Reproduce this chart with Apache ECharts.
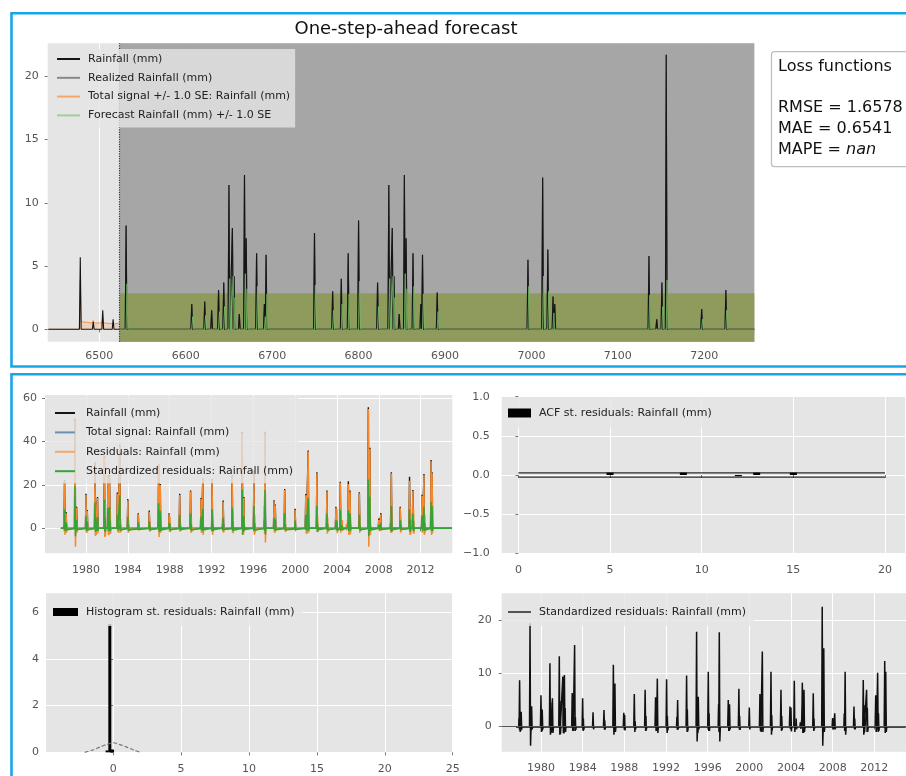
<!DOCTYPE html>
<html>
<head>
<meta charset="utf-8">
<script src="https://cdn.jsdelivr.net/npm/echarts@6/dist/echarts.min.js"></script>
<style>
  html, body { margin: 0; padding: 0; background: #ffffff; }
  #chart { width: 906px; height: 776px; }
</style>
</head>
<body>
<div id="chart"></div>
<script>
// ---------- One-step-ahead forecast (daily index) ----------
const sampleStart = 6441;
const forecastStart = 6523.5;
const forecastEnd = 7257.9;
const seUpper = 2.85;            // upper edge of the forecast +/- 1.0 SE band

const rainDays = [6478, 6493, 6504, 6516, 6531, 6607, 6622, 6630, 6638, 6644, 6650, 6654, 6656, 6662, 6668, 6670,
  6682, 6691, 6693, 6749, 6770, 6780, 6788, 6800, 6822, 6835, 6839, 6841, 6847, 6853, 6855, 6863, 6872, 6874, 6891,
  6996, 7013, 7019, 7025, 7027, 7136, 7145, 7151, 7156, 7197, 7225];
const rainMm = [5.7, 0.6, 1.5, 0.8, 8.2, 2.0, 2.2, 1.5, 3.1, 3.7, 11.4, 8.0, 4.2, 1.2, 12.2, 7.2,
  6.0, 2.0, 5.9, 7.6, 3.0, 4.0, 6.0, 8.6, 3.7, 11.4, 8.0, 4.2, 1.2, 12.2, 7.2, 6.0, 2.0, 5.9, 2.9,
  5.5, 12.0, 6.3, 2.6, 2.0, 5.8, 0.8, 3.7, 21.7, 1.6, 3.1];

const forecastDays = [6532, 6608, 6623, 6639, 6645, 6651, 6655, 6657, 6669, 6671, 6683, 6692, 6694, 6750, 6771, 6781,
  6789, 6801, 6823, 6836, 6840, 6842, 6854, 6856, 6864, 6875, 6892, 6997, 7014, 7020, 7026, 7137, 7152, 7157, 7198, 7226];
const forecastMm = [3.6, 1.0, 1.1, 1.4, 1.8, 4.0, 4.2, 2.5, 4.4, 3.2, 3.4, 1.0, 2.8, 3.5, 1.5, 2.0,
  2.8, 3.8, 1.8, 4.0, 4.2, 2.5, 4.4, 3.2, 3.4, 2.8, 1.4, 3.4, 4.2, 3.0, 1.3, 2.7, 1.8, 3.9, 0.8, 1.5];

const signalDays = [6441, 6477, 6478, 6479, 6492, 6493, 6494, 6503, 6504, 6505, 6515, 6516, 6517, 6523];
const signalUpperMm = [0, 0, 3.9, 0.6, 0.5, 0.7, 0.5, 0.5, 0.9, 0.5, 0.45, 0.6, 0.45, 0.45];

const rmse = '1.6578', mae = '0.6541', mape = 'nan';

// ---------- Diagnostics (decimal years) ----------
const obsStart = 1977.6, obsEnd = 2015.0;
const eventYear = [1977.95, 1978.1, 1978.95, 1979.1, 1980.0, 1980.12, 1980.86, 1981.1, 1981.76, 1982.1, 1982.25,
  1983.0, 1983.23, 1984.0, 1985.0, 1986.05, 1986.95, 1987.1, 1987.95, 1988.96, 1990.0, 1991.0, 1991.17, 1992.06,
  1993.12, 1993.98, 1994.94, 1995.1, 1996.06, 1997.12, 1997.98, 1998.1, 1999.0, 2000.0, 2001.02, 2001.25, 2002.08,
  2003.04, 2003.9, 2004.32, 2005.09, 2005.25, 2006.14, 2007.0, 2007.15, 2008.0, 2008.2, 2009.2, 2010.05, 2010.94,
  2011.26, 2012.13, 2012.32, 2013.0, 2013.1];
const eventRain = [22.2, 7.5, 50.6, 10.0, 15.9, 8.5, 30.5, 14.5, 33.5, 24.5, 24.5,
  16.5, 38.5, 13.5, 7.0, 8.2, 29.5, 20.5, 7.0, 15.9, 17.5, 14.0, 23.0, 22.8,
  12.8, 24.5, 44.5, 14.5, 26.5, 44.5, 13.0, 11.0, 18.2, 9.0, 15.8, 35.9, 25.9,
  17.5, 10.0, 21.5, 21.7, 17.5, 16.7, 55.8, 37.2, 4.5, 7.0, 25.9, 10.0, 23.8,
  17.7, 15.5, 25.1, 31.5, 25.9];
const eventResid = [21.7, 7.0, 50.0, 9.5, 15.4, 8.0, 30.0, 14.0, 33.0, 24.0, 24.0,
  16.0, 38.0, 13.0, 6.5, 7.7, 29.0, 20.0, 6.5, 15.4, 17.0, 13.5, 22.5, 22.3,
  12.3, 24.0, 44.0, 14.0, 26.0, 44.0, 12.5, 10.5, 17.7, 8.5, 15.3, 35.4, 25.4,
  17.0, 9.5, 21.0, 20.5, 17.0, 16.2, 55.0, 36.7, 4.0, 6.5, 25.4, 9.5, 22.0,
  17.2, 15.0, 24.6, 31.0, 25.4];
const eventResidLow = [-3, -2, -8.5, -2, -2, -1, -3.5, -2, -4, -3, -2,
  -1.5, -2, -2, -1, -1.5, -4, -2, -1.5, -1.5, -2, -2, -3, -3,
  -2, -2, -3, -1.5, -3, -6.5, -2, -1, -1.5, -1, -2.5, -2, -1.5,
  -2.5, -1, -2, -3, -2.5, -2, -8.5, -3, -1, -1, -2, -2, -3,
  -2, -2, -3, -3, -2];
const stdResid = [8.7, 2.8, 19.4, 3.8, 5.9, 3.2, 11.9, 5.3, 13.2, 9.4, 9.7,
  6.3, 15.3, 5.3, 2.7, 3.1, 11.6, 8.1, 2.6, 6.1, 6.9, 5.5, 9.0, 8.9,
  5.0, 9.6, 17.8, 5.6, 10.3, 17.7, 5.0, 4.2, 7.1, 3.6, 6.1, 14.1, 10.3,
  6.9, 3.75, 8.6, 8.25, 6.9, 6.25, 22.5, 14.7, 1.6, 2.5, 10.3, 3.75, 8.75,
  6.9, 5.9, 10.1, 12.3, 10.3];
const stdResidLow = [-1.0, -0.5, -3.6, -0.5, -1.0, -0.5, -1.5, -1.2, -1.5, -1.2, -1.0,
  -0.8, -0.8, -0.8, -0.5, -0.6, -1.5, -1.0, -0.6, -1.0, -0.8, -0.8, -1.2, -1.2,
  -0.5, -1.0, -2.8, -0.5, -0.8, -2.8, -0.8, -0.5, -0.6, -0.5, -0.8, -1.0, -1.5,
  -0.8, -0.5, -1.0, -1.2, -1.0, -0.8, -3.6, -1.0, -0.5, -0.5, -1.5, -0.5, -1.5,
  -1.0, -1.0, -1.0, -1.2, -1.0];

// smaller wet days around the main events
const minorYear = [1977.9, 1978.02, 1979.02, 1980.06, 1980.93, 1981.03, 1981.83, 1982.17, 1982.32, 1983.08, 1983.3,
  1984.07, 1986.12, 1987.02, 1988.03, 1989.04, 1990.07, 1991.08, 1992.13, 1993.05, 1994.05, 1995.02, 1996.13,
  1997.05, 1998.04, 1999.07, 2001.1, 2002.15, 2003.11, 2004.0, 2004.5, 2004.9, 2005.17, 2006.2, 2007.07, 2008.08,
  2009.12, 2010.12, 2011.02, 2011.33, 2012.2, 2012.4, 2013.05];
const minorStd = [1.5, 2.5, 1.8, 2.2, 4.5, 3.0, 4.8, 5.0, 3.5, 2.5, 1.8,
  1.5, 1.2, 2.8, 2.2, 1.0, 2.0, 2.5, 2.0, 1.8, 3.2, 5.5, 2.5,
  4.2, 2.8, 2.0, 3.5, 2.2, 2.0, 3.6, 1.5, 0.8, 5.2, 1.5, 3.0, 1.2,
  2.5, 1.5, 4.0, 3.5, 1.8, 2.5, 3.5];
const minorStdLow = [-0.6, -0.8, -0.7, -0.8, -1.2, -1.0, -1.4, -1.3, -1.0, -0.8, -0.6,
  -0.6, -0.5, -0.9, -0.7, -0.5, -0.7, -0.8, -0.7, -0.6, -0.9, -1.2, -0.8,
  -1.0, -0.8, -0.6, -1.0, -0.7, -0.6, -0.9, -0.5, -0.4, -1.2, -0.5, -0.9, -0.5,
  -0.8, -0.5, -1.1, -1.0, -0.6, -0.8, -1.0];
const minorResid = [3.8, 6.2, 4.5, 5.5, 11.2, 7.5, 12.0, 12.5, 8.8, 6.2, 4.5,
  3.8, 3.0, 7.0, 5.5, 2.5, 5.0, 6.2, 5.0, 4.5, 8.0, 13.8, 6.2,
  10.5, 7.0, 5.0, 8.8, 5.5, 5.0, 9.0, 3.8, 2.0, 13.0, 3.8, 7.5, 3.0,
  6.2, 3.8, 10.0, 8.8, 4.5, 6.2, 8.8];
const minorResidLow = [-1.5, -2, -1.8, -2, -3, -2.5, -3.5, -3.2, -2.5, -2, -1.5,
  -1.5, -1.2, -2.2, -1.8, -1.2, -1.8, -2, -1.8, -1.5, -2.2, -3, -2,
  -2.5, -2, -1.5, -2.5, -1.8, -1.5, -2.2, -1.2, -1, -3, -1.2, -2.2, -1.2,
  -2, -1.2, -2.8, -2.5, -1.5, -2, -2.5];

const acfLags = [5, 9, 12, 13, 15];
const acfValues = [0.03, 0.03, -0.015, 0.03, 0.03];
const acfBoundLags = [0, 20];
const acfBound = 0.028;

const histCenters = [-0.45, -0.25, -0.05];
const histDensity = [0.08, 5.5, 0.12];
const kdeX = [-2.1, -1.5, -1.0, -0.5, 0.0, 0.5, 1.0, 1.5, 2.0];
const kdeY = [0, 0.1, 0.22, 0.33, 0.41, 0.33, 0.22, 0.1, 0];

// ---------- Tick labels ----------
const topTicksX = [6500, 6600, 6700, 6800, 6900, 7000, 7100, 7200];
const topTicksY = [0, 5, 10, 15, 20];
const yearTicks = [1980, 1984, 1988, 1992, 1996, 2000, 2004, 2008, 2012];
const seriesTicksY = [0, 20, 40, 60];
const acfTicksX = [0, 5, 10, 15, 20];
const acfTicksY = [-1, -0.5, 0, 0.5, 1];
const histTicksX = [0, 5, 10, 15, 20, 25];
const histTicksY = [0, 2, 4, 6];
const stdTicksY = [0, 10, 20];

// ---------- helpers ----------
const FONT = 'DejaVu Sans';
const C = {
  black: '#151515', orange: '#f5892c', green: '#36a336', blue: '#3f73a8',
  fcGreen: '#74c062', panel: '#e5e5e5', shade: '#a6a6a6', band: '#8e9b5d', frame: '#17a6e8'
};

// polyline of narrow spikes returning to zero between events
function spikes(xs, peaks, lows, dw, x0, x1) {
  const pts = [[x0, 0]];
  xs.forEach((x, i) => {
    pts.push([x - dw, 0], [x, peaks[i]]);
    if (lows) { pts.push([x + dw, lows[i]], [x + 2 * dw, 0]); }
    else { pts.push([x + dw, 0]); }
  });
  pts.push([x1, 0]);
  return pts;
}
function pairs(xs, ys) { return xs.map((x, i) => [x, ys[i]]); }

const plainFmt = v => String(v);
const signedFmt = v => (v < 0 ? '\u2212' : '') + Math.abs(v).toFixed(1);

function axis(gi, min, max, ticks, margin, extra) {
  const a = {
    type: 'value', gridIndex: gi, min: min, max: max,
    axisLine: { show: false },
    axisTick: { show: true, length: 3, customValues: ticks, lineStyle: { color: '#777', width: 1 } },
    axisLabel: { customValues: ticks, color: '#555', fontSize: 11, margin: margin, fontFamily: FONT, formatter: plainFmt },
    splitLine: { show: true, lineStyle: { color: '#ffffff', width: 1 } }
  };
  if (extra && extra.formatter) a.axisLabel.formatter = extra.formatter;
  if (extra && extra.noSplit) a.splitLine.show = false;
  return a;
}

function line(name, xi, yi, data, color, width, z, extra) {
  return Object.assign({
    name: name, type: 'line', xAxisIndex: xi, yAxisIndex: yi, data: data,
    symbol: 'none', showSymbol: false, clip: true, z: z, silent: true,
    lineStyle: { color: color, width: width }, itemStyle: { color: color }
  }, extra || {});
}

const legendText = { fontSize: 11, color: '#222', lineHeight: 14, fontFamily: FONT };
const legendBg = 'rgba(229,229,229,0.8)';
const LZ = 30;

// derived series for the diagnostics panel
const signalPeaks = eventRain.map((r, i) => r - eventResid[i]);
const signalLows = eventResidLow.map(v => -v);

const option = {
  animation: false,
  backgroundColor: '#ffffff',
  textStyle: { fontFamily: FONT },
  title: {
    text: 'One-step-ahead forecast', left: 401, top: 15, textAlign: 'center',
    textStyle: { fontSize: 18, fontWeight: 'normal', color: '#111', fontFamily: FONT }
  },
  grid: [
    { left: 47.7, top: 43.3, width: 706.6, height: 298.4 },
    { left: 45, top: 395, width: 407.3, height: 158.3 },
    { left: 501.7, top: 396.7, width: 403.3, height: 156.6 },
    { left: 46, top: 593.3, width: 406.7, height: 159 },
    { left: 501.7, top: 593.3, width: 410, height: 158.4 }
  ].map(g => Object.assign(g, { show: true, backgroundColor: C.panel, borderWidth: 0, containLabel: false, outerBoundsMode: 'none' })),
  xAxis: [
    axis(0, 6440.3, 7257.9, topTicksX, 9),
    axis(1, 1976.08, 2015.03, yearTicks, 11),
    axis(2, -0.91, 21.09, acfTicksX, 11),
    axis(3, -4.95, 25, histTicksX, 11),
    axis(4, 1976.23, 2015.59, yearTicks, 11)
  ],
  yAxis: [
    axis(0, -0.98, 22.6, topTicksY, 9, { noSplit: true }),
    axis(1, -11.5, 61.5, seriesTicksY, 8),
    axis(2, -1, 1, acfTicksY, 12, { formatter: signedFmt }),
    axis(3, 0, 6.81, histTicksY, 7),
    axis(4, -4.7, 25.0, stdTicksY, 10)
  ],
  legend: [
    {
      z: LZ, left: 50, top: 49, orient: 'vertical', padding: [3, 5, 5, 7], itemGap: 4.8,
      itemWidth: 23, itemHeight: 2, icon: 'rect', selectedMode: false, backgroundColor: legendBg,
      textStyle: Object.assign({ padding: [0, 0, 0, 3] }, legendText),
      data: [
        { name: 'Rainfall (mm)', itemStyle: { color: C.black } },
        { name: 'Realized Rainfall (mm)', itemStyle: { color: '#888' } },
        { name: 'Total signal +/- 1.0 SE: Rainfall (mm)', itemStyle: { color: '#f6a767' } },
        { name: 'Forecast Rainfall (mm) +/- 1.0 SE', itemStyle: { color: '#9fd097' } }
      ]
    },
    {
      z: LZ, left: 47, top: 396, orient: 'vertical', padding: [10, 5, 5, 8], itemGap: 5.4,
      itemWidth: 20, itemHeight: 2, icon: 'rect', selectedMode: false, backgroundColor: legendBg,
      textStyle: Object.assign({ padding: [0, 0, 0, 6] }, legendText),
      data: [
        { name: 'Rainfall (mm)', itemStyle: { color: C.black } },
        { name: 'Total signal: Rainfall (mm)', itemStyle: { color: '#6d8fb5' } },
        { name: 'Residuals: Rainfall (mm)', itemStyle: { color: '#f5a869' } },
        { name: 'Standardized residuals: Rainfall (mm)', itemStyle: { color: C.green } }
      ]
    },
    {
      z: LZ, left: 502, top: 397, orient: 'vertical', padding: [9, 8, 8, 6],
      itemWidth: 23, itemHeight: 9, icon: 'rect', selectedMode: false, backgroundColor: legendBg,
      textStyle: Object.assign({ padding: [0, 0, 0, 3] }, legendText),
      data: [{ name: 'ACF st. residuals: Rainfall (mm)', itemStyle: { color: '#000' } }]
    },
    {
      z: LZ, left: 46, top: 594, orient: 'vertical', padding: [11, 8, 7, 7],
      itemWidth: 25, itemHeight: 8, icon: 'rect', selectedMode: false, backgroundColor: legendBg,
      textStyle: Object.assign({ padding: [0, 0, 0, 3] }, legendText),
      data: [{ name: 'Histogram st. residuals: Rainfall (mm)', itemStyle: { color: '#000' } }]
    },
    {
      z: LZ, left: 502, top: 594, orient: 'vertical', padding: [11, 8, 7, 6],
      itemWidth: 23, itemHeight: 1.5, icon: 'rect', selectedMode: false, backgroundColor: legendBg,
      textStyle: Object.assign({ padding: [0, 0, 0, 3] }, legendText),
      data: [{ name: 'Standardized residuals: Rainfall (mm)', itemStyle: { color: '#222' } }]
    }
  ],
  series: [
    // forecast window shading and the +/- 1.0 SE band
    line('forecast window', 0, 0, [[forecastStart, 0]], 'rgba(0,0,0,0)', 0, 1, {
      markArea: {
        silent: true,
        data: [
          [{ xAxis: forecastStart, itemStyle: { color: C.shade, opacity: 1 } }, { xAxis: forecastEnd }],
          [{ xAxis: forecastStart, itemStyle: { color: C.band, opacity: 1 } }, { xAxis: forecastEnd, yAxis: seUpper }]
        ]
      },
      markLine: {
        silent: true, symbol: 'none', label: { show: false },
        lineStyle: { type: 'dotted', color: '#3a3a3a', width: 1.2 },
        data: [{ xAxis: forecastStart }]
      }
    }),
    line('Total signal +/- 1.0 SE: Rainfall (mm)', 0, 0, pairs(signalDays, signalUpperMm), '#f5924a', 1, 3, {
      areaStyle: { color: 'rgba(247,170,110,0.45)', origin: 0 }
    }),
    line('Realized Rainfall (mm)', 0, 0,
      spikes(rainDays.filter(d => d > forecastStart), rainMm.filter((v, i) => rainDays[i] > forecastStart), null, 1, forecastStart, forecastEnd),
      '#5a5a5a', 1.2, 4),
    line('Rainfall (mm)', 0, 0, spikes(rainDays, rainMm, null, 1, sampleStart, forecastEnd), C.black, 1.1, 5),
    line('Forecast Rainfall (mm) +/- 1.0 SE', 0, 0, spikes(forecastDays, forecastMm, null, 1, forecastStart, forecastEnd), C.fcGreen, 0.9, 6, {
      lineStyle: { color: C.fcGreen, width: 0.9, opacity: 0.85 }
    }),

    // model diagnostics over time
    line('Rainfall (mm)', 1, 1, spikes(eventYear, eventRain, null, 0.05, obsStart, obsEnd), C.black, 1.4, 3),
    line('Total signal: Rainfall (mm)', 1, 1, spikes(eventYear, signalPeaks, signalLows, 0.04, obsStart, obsEnd), C.blue, 1.2, 4),
    line('Residuals: Rainfall (mm)', 1, 1, spikes(eventYear, eventResid, eventResidLow, 0.04, obsStart, obsEnd), C.orange, 1.5, 5),
    line('Residuals: Rainfall (mm)', 1, 1, spikes(minorYear, minorResid, minorResidLow, 0.03, obsStart, obsEnd), C.orange, 1.5, 5),
    line('Standardized residuals: Rainfall (mm)', 1, 1, spikes(eventYear, stdResid, stdResidLow, 0.04, obsStart, obsEnd), C.green, 1.5, 6),
    line('Standardized residuals: Rainfall (mm)', 1, 1, spikes(minorYear, minorStd, minorStdLow, 0.03, obsStart, obsEnd), C.green, 1.5, 6),

    // autocorrelation of standardized residuals
    line('acf upper', 2, 2, acfBoundLags.map(l => [l, acfBound]), '#2a2a2a', 1.3, 3),
    line('acf lower', 2, 2, acfBoundLags.map(l => [l, -acfBound]), '#2a2a2a', 1.3, 3),
    {
      name: 'ACF st. residuals: Rainfall (mm)', type: 'bar', xAxisIndex: 2, yAxisIndex: 2,
      data: pairs(acfLags, acfValues), barWidth: 7, itemStyle: { color: '#000' }, z: 4, silent: true
    },

    // histogram of standardized residuals with density
    {
      name: 'Histogram st. residuals: Rainfall (mm)', type: 'bar', xAxisIndex: 3, yAxisIndex: 3,
      data: pairs(histCenters, histDensity), barWidth: 3, barGap: '-100%', itemStyle: { color: '#000' }, z: 3, silent: true
    },
    line('density', 3, 3, pairs(kdeX, kdeY), '#777', 1.2, 4, {
      smooth: 0.3, lineStyle: { color: '#777', width: 1.2, type: [4, 2] }
    }),

    // standardized residuals over time
    line('Standardized residuals: Rainfall (mm)', 4, 4, spikes(eventYear, stdResid, stdResidLow, 0.05, obsStart, obsEnd), '#111', 1.5, 4, {
      markLine: {
        silent: true, symbol: 'none', label: { show: false },
        lineStyle: { type: 'solid', color: '#555', width: 1 },
        data: [{ yAxis: 0 }]
      }
    }),
    line('Standardized residuals: Rainfall (mm)', 4, 4, spikes(minorYear, minorStd, minorStdLow, 0.04, obsStart, obsEnd), '#111', 1.5, 4)
  ],
  graphic: [
    {
      type: 'rect', silent: true, z: 50,
      shape: { x: 11.5, y: 13.3, width: 920, height: 353.2 },
      style: { fill: 'none', stroke: C.frame, lineWidth: 2.6 }
    },
    {
      type: 'rect', silent: true, z: 50,
      shape: { x: 11.5, y: 374.3, width: 920, height: 420 },
      style: { fill: 'none', stroke: C.frame, lineWidth: 2.6 }
    },
    {
      type: 'rect', silent: true, z: 40,
      shape: { x: 771.5, y: 51.7, width: 160, height: 115, r: 3 },
      style: { fill: '#ffffff', stroke: '#bdbdbd', lineWidth: 1.2 }
    },
    {
      type: 'text', silent: true, z: 41, left: 778, top: 56.3,
      style: {
        text: 'Loss functions\n\nRMSE = ' + rmse + '\nMAE = ' + mae + '\nMAPE = {it|' + mape + '}',
        fontSize: 16, lineHeight: 20.8, fill: '#111', fontFamily: FONT,
        rich: { it: { fontStyle: 'italic', fontSize: 16, lineHeight: 20.8, fontFamily: FONT, fill: '#111' } }
      }
    }
  ]
};

const chart = echarts.init(document.getElementById('chart'), null, { renderer: 'canvas' });
chart.setOption(option);
</script>
</body>
</html>
